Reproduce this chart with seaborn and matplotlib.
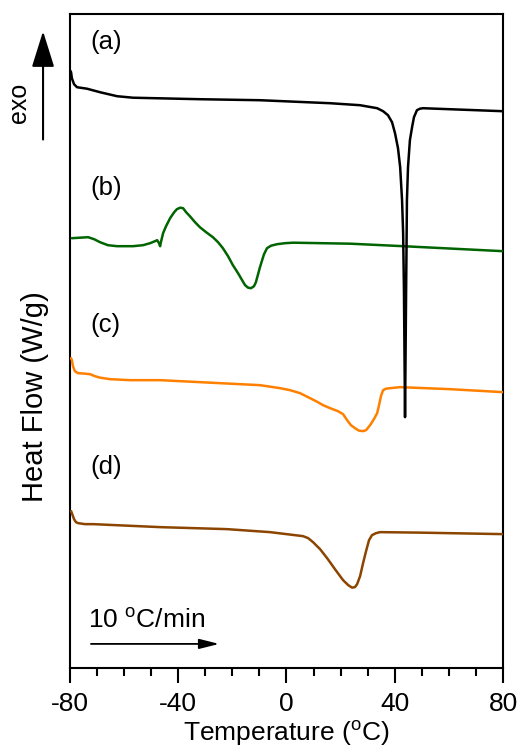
"""DSC heating curves (a)-(d), 10 C/min."""

import matplotlib

matplotlib.use("Agg")
import matplotlib.pyplot as plt
import pandas as pd
import seaborn as sns

# curve (a)
temp_a = [-80.0, -79.6, -79.3, -78.5, -77.4, -73.7, -68.9, -62.6, -56.7, -32.0, -9.8, 16.1,
          27.2, 33.5, 35.7, 37.5, 39.0, 40.1, 41.2, 42.0, 42.7, 43.1, 43.4, 43.8, 44.2, 44.4,
          44.5, 44.9, 45.6, 46.4, 47.1, 48.2, 49.3, 50.4, 80.0]
hf_a = [59.8, 59.6, 59.0, 58.4, 58.1, 57.95, 57.6, 57.2, 57.05, 56.9, 56.8, 56.5,
        56.3, 56.0, 55.7, 55.3, 54.6, 53.5, 52.0, 50.1, 46.8, 43.5, 37.8, 25.1, 37.8, 43.5,
        46.8, 50.1, 52.8, 54.1, 55.1, 55.8, 55.95, 56.0, 55.7]

# curve (b)
temp_b = [-79.3, -76.3, -73.3, -71.1, -68.9, -66.0, -62.6, -56.7, -53.0, -50.4, -48.6, -47.8,
          -47.1, -46.7, -46.4, -45.6, -44.5, -43.0, -41.5, -40.5, -39.3, -38.2, -37.1, -35.7,
          -33.8, -32.0, -29.7, -27.2, -25.3, -23.5, -21.6, -19.8, -17.9, -16.4, -15.3, -14.2,
          -13.1, -12.0, -11.3, -10.6, -9.8, -9.0, -8.3, -7.2, -5.7, -3.5, -0.5, 2.4, 23.5,
          43.1, 80.0]
hf_b = [43.0, 43.05, 43.1, 42.9, 42.6, 42.3, 42.2, 42.2, 42.3, 42.5, 42.7, 42.8,
        42.5, 42.2, 42.6, 43.5, 44.2, 45.0, 45.6, 45.9, 46.05, 46.0, 45.6, 45.2,
        44.6, 44.1, 43.6, 43.1, 42.6, 42.0, 41.2, 40.3, 39.5, 38.8, 38.3, 38.05,
        38.0, 38.2, 38.6, 39.3, 40.1, 40.8, 41.4, 42.0, 42.25, 42.4, 42.5, 42.55, 42.45,
        42.2, 41.7]

# curve (c)
temp_c = [-79.6, -79.3, -78.9, -78.2, -77.0, -74.5, -72.6, -70.8, -68.9, -65.2, -57.8, -46.7,
          -24.6, -9.8, -2.4, 1.3, 5.0, 8.7, 11.6, 13.5, 16.1, 19.0, 20.9, 22.4, 23.8, 25.3,
          26.8, 28.3, 29.4, 30.9, 32.3, 33.5, 34.2, 34.9, 35.7, 36.8, 38.3, 42.0, 60.4, 80.0]
hf_c = [31.0, 30.8, 30.2, 29.7, 29.5, 29.45, 29.4, 29.2, 29.05, 28.9, 28.8, 28.8,
        28.5, 28.3, 28.0, 27.8, 27.5, 27.0, 26.6, 26.3, 26.0, 25.7, 25.4, 24.8, 24.3, 24.0,
        23.75, 23.7, 23.8, 24.3, 24.9, 25.5, 26.3, 27.2, 27.8, 27.95, 28.0, 28.1, 27.9, 27.6]

# curve (d)
temp_d = [-79.6, -79.3, -78.5, -77.8, -77.0, -74.5, -71.5, -46.7, -22.0, -6.1, 6.1, 8.0,
          9.8, 12.4, 15.0, 17.9, 20.9, 22.8, 24.2, 25.3, 26.1, 27.2, 28.3, 29.4, 30.5, 31.6,
          33.1, 34.6, 49.3, 80.0]
hf_d = [15.7, 15.5, 14.9, 14.6, 14.5, 14.4, 14.4, 14.1, 13.9, 13.6, 13.2, 13.0,
        12.6, 11.9, 11.0, 9.9, 8.8, 8.3, 8.05, 8.1, 8.4, 9.2, 10.5, 11.7, 12.8, 13.3,
        13.5, 13.6, 13.55, 13.4]

curve_labels = ["(a)", "(b)", "(c)", "(d)"]
curve_colors = ["black", "#006400", "#ff8000", "#8b4500"]
x_ticks = [-80, -40, 0, 40, 80]

sns.set_theme(style="ticks")
plt.rcParams["font.family"] = ["Liberation Sans", "DejaVu Sans"]
plt.rcParams["mathtext.fontset"] = "custom"
plt.rcParams["mathtext.rm"] = "Liberation Sans"
plt.rcParams["axes.unicode_minus"] = False
plt.rcParams["text.color"] = "black"
plt.rcParams["axes.labelcolor"] = "black"
plt.rcParams["xtick.color"] = "black"
plt.rcParams["axes.edgecolor"] = "black"

frames = []
for label, temps, flows in zip(curve_labels, [temp_a, temp_b, temp_c, temp_d], [hf_a, hf_b, hf_c, hf_d]):
    frames.append(pd.DataFrame({"curve": label, "temperature": temps, "heat_flow": flows}))
data = pd.concat(frames, ignore_index=True)

fig = plt.figure(figsize=(5.25, 7.49), dpi=100)
ax = fig.add_axes([0.1333, 0.108, 0.8248, 0.873])

# draw (a) last so its sharp melting peak sits on top
for label, color in list(zip(curve_labels, curve_colors))[::-1]:
    sns.lineplot(
        data=data[data["curve"] == label],
        x="temperature",
        y="heat_flow",
        color=color,
        linewidth=1.8,
        sort=False,
        estimator=None,
        ax=ax,
        zorder=5 if label == "(a)" else 3,
        solid_joinstyle="round",
        solid_capstyle="round",
    )

ax.set_xlim(-80, 80)
ax.set_ylim(0, 65.4)
ax.set_xticks(x_ticks)
ax.set_xticks(range(-80, 81, 10), minor=True)
ax.set_yticks([])
ax.tick_params(axis="x", which="major", length=11, width=1.5, labelsize=19, pad=6, direction="out")
ax.tick_params(axis="x", which="minor", length=6, width=1.5, direction="out")
for spine in ax.spines.values():
    spine.set_linewidth(1.5)
    spine.set_visible(True)

ax.set_xlabel("Temperature ($^{\\mathrm{o}}$C)", fontsize=19, labelpad=2)
ax.set_ylabel("")
fig.text(0.067, 0.47, "Heat Flow (W/g)", rotation=90, fontsize=21, ha="center", va="center")

text_y = [0.957, 0.735, 0.524, 0.307]
for label, ypos in zip(curve_labels, text_y):
    ax.text(0.048, ypos, label, transform=ax.transAxes, fontsize=18.5, ha="left", va="center")

# exo direction marker
fig.text(0.036, 0.862, "exo", rotation=90, fontsize=18, ha="center", va="center")
fig.patches.append(
    matplotlib.patches.FancyArrowPatch(
        (0.082, 0.810), (0.082, 0.962), transform=fig.transFigure,
        arrowstyle="-|>,head_length=1.6,head_width=0.5", mutation_scale=14, color="black", linewidth=1.5,
    )
)

# heating rate
ax.text(0.042, 0.073, "10 $^{\\mathrm{o}}$C/min", transform=ax.transAxes, fontsize=19, ha="left", va="center")
ax.annotate(
    "", xy=(0.351, 0.037), xytext=(0.042, 0.037), xycoords="axes fraction",
    arrowprops=dict(arrowstyle="-|>,head_length=1.0,head_width=0.25", mutation_scale=12, color="black", linewidth=1.3),
)

fig.savefig("out.png", dpi=100)
plt.close(fig)
